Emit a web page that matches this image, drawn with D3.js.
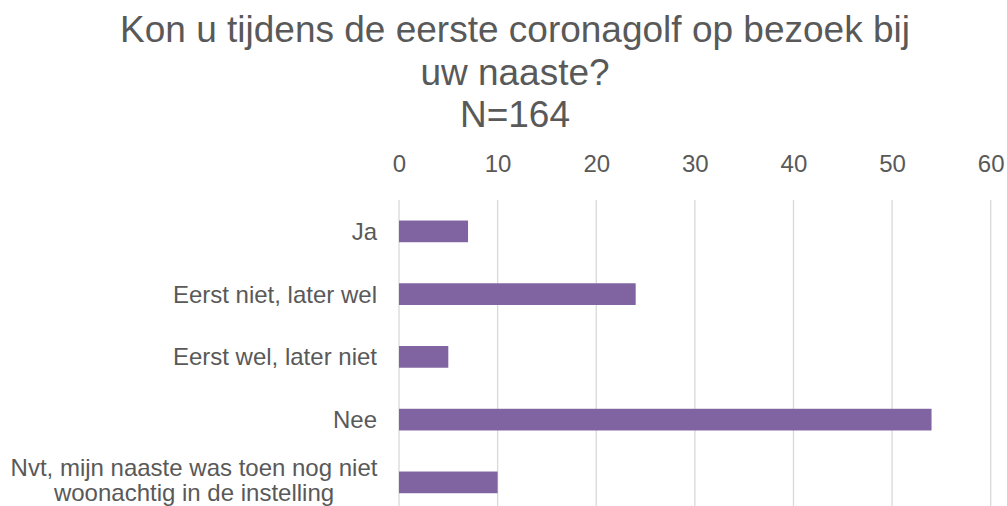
<!DOCTYPE html>
<html>
<head>
<meta charset="utf-8">
<script src="https://cdn.jsdelivr.net/npm/d3@7"></script>
<style>
  html, body { margin: 0; padding: 0; background: #ffffff; }
  svg { display: block; }
  text { font-family: "Liberation Sans", Arial, sans-serif; fill: #595959; }
</style>
</head>
<body>
<script>
const categories = [
  ["Ja"],
  ["Eerst niet, later wel"],
  ["Eerst wel, later niet"],
  ["Nee"],
  ["Nvt, mijn naaste was toen nog niet", "woonachtig in de instelling"]
];
const values = [7, 24, 5, 54, 10];
const tickValues = [0, 10, 20, 30, 40, 50, 60];
const titleLines = ["Kon u tijdens de eerste coronagolf op bezoek bij", "uw naaste?", "N=164"];

const W = 1007, H = 506;
const svg = d3.select("body").append("svg").attr("width", W).attr("height", H);

const keys = categories.map((c, i) => String(i));
const x = d3.scaleLinear().domain([0, 60]).range([399, 990.7]);
const y = d3.scaleBand().domain(keys).range([200, 513.75]).paddingInner(0.654).paddingOuter(0.327);

// Title
svg.append("g").selectAll("text").data(titleLines).join("text")
  .attr("x", 515).attr("y", (d, i) => 42 + i * 42.5)
  .attr("text-anchor", "middle").style("font-size", "37px").text(d => d);

// Top axis labels
const axis = d3.axisTop(x).tickValues(tickValues).tickSize(0).tickPadding(0).tickFormat(d3.format("d"));
const gAxis = svg.append("g").attr("transform", "translate(0,172)").call(axis);
gAxis.select(".domain").remove();
gAxis.selectAll("text").style("font-size", "24px").attr("fill", "#595959").attr("dy", 0)
  .style("font-family", '"Liberation Sans", Arial, sans-serif');

// Gridlines
svg.append("g").selectAll("line").data(tickValues).join("line")
  .attr("x1", d => x(d)).attr("x2", d => x(d))
  .attr("y1", 200).attr("y2", 514)
  .attr("stroke", "#d9d9d9").attr("stroke-width", 1.3);

// Bars
svg.append("g").selectAll("rect").data(values).join("rect")
  .attr("x", x(0)).attr("y", (d, i) => y(keys[i]))
  .attr("width", d => x(d) - x(0)).attr("height", y.bandwidth())
  .attr("fill", "#8064a2");

// Category labels
const lab = svg.append("g").selectAll("text").data(categories).join("text")
  .style("font-size", "24px");
lab.each(function(lines, i) {
  const cy = y(keys[i]) + y.bandwidth() / 2;
  const t = d3.select(this);
  if (lines.length === 1) {
    t.attr("x", 377).attr("y", cy + 8.5).attr("text-anchor", "end").text(lines[0]);
  } else {
    t.attr("text-anchor", "middle");
    const lh = 25;
    lines.forEach((ln, j) => {
      t.append("tspan").attr("x", 194)
        .attr("y", cy + 6 + (j - (lines.length - 1) / 2) * lh).text(ln);
    });
  }
});
</script>
</body>
</html>
